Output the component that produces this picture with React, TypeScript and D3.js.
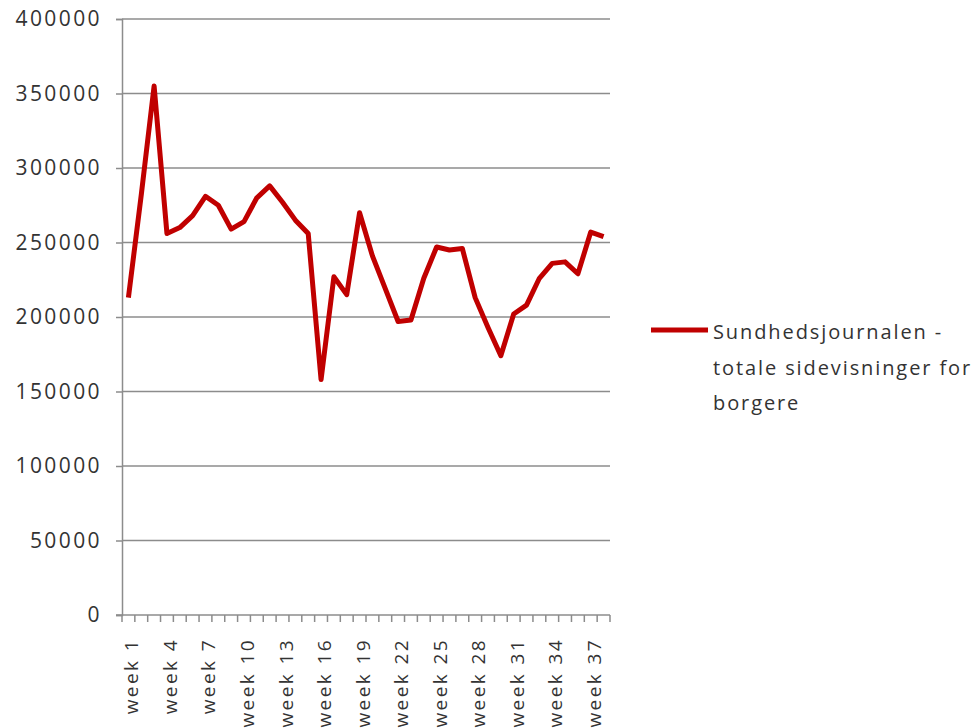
import React, { useRef, useEffect } from "react";
import * as d3 from "d3";

const weeks = d3.range(1, 39).map((w) => `week ${w}`);
const pageViews = [
  213000, 282000, 355000, 256000, 260000, 268000, 281000, 275000, 259000, 264000,
  280000, 288000, 277000, 265000, 256000, 158000, 227000, 215000, 270000, 241000,
  219000, 197000, 198000, 226000, 247000, 245000, 246000, 213000, 193000, 174000,
  202000, 208000, 226000, 236000, 237000, 229000, 257000, 254000,
];
const yTicks = [0, 50000, 100000, 150000, 200000, 250000, 300000, 350000, 400000];
const seriesName = ["Sundhedsjournalen -", "totale sidevisninger for", "borgere"];

const W = 980;
const H = 728;

const App = () => {
  const svgRef = useRef<SVGSVGElement>(null);

  useEffect(() => {
    const svg = d3.select(svgRef.current);
    svg.selectAll("*").remove();

    const left = 122;
    const right = 610;
    const top = 19;
    const bottom = 615;
    const font = "'Open Sans', sans-serif";

    const x = d3.scaleBand<string>().domain(weeks).range([left, right]).padding(0);
    const y = d3.scaleLinear().domain([0, 400000]).range([bottom, top]);
    const cx = (w: string) => (x(w) ?? 0) + x.bandwidth() / 2;

    // gridlines
    svg.append("g")
      .selectAll("line")
      .data(yTicks.filter((t) => t > 0))
      .join("line")
      .attr("x1", left)
      .attr("x2", right)
      .attr("y1", (d) => y(d))
      .attr("y2", (d) => y(d))
      .attr("stroke", "#8c8c8c")
      .attr("stroke-width", 1.5);

    // y axis
    const yAxis = svg.append("g")
      .attr("transform", `translate(${left},0)`)
      .call(d3.axisLeft(y).tickValues(yTicks).tickSize(6).tickPadding(14).tickFormat((d) => String(d)));
    yAxis.select(".domain").attr("stroke", "#8c8c8c").attr("stroke-width", 1.5);
    yAxis.selectAll(".tick line").attr("stroke", "#8c8c8c").attr("stroke-width", 1.5);
    yAxis.selectAll(".tick text")
      .attr("fill", "#333")
      .style("font-family", font)
      .style("font-size", "21px")
      .style("letter-spacing", "2.4px");

    // x axis
    const boundaries = weeks.map((w) => x(w) ?? 0).concat([right]);
    const xAxis = svg.append("g");
    xAxis.append("line")
      .attr("x1", left - 6)
      .attr("x2", right)
      .attr("y1", bottom)
      .attr("y2", bottom)
      .attr("stroke", "#8c8c8c")
      .attr("stroke-width", 1.5);
    xAxis.selectAll("line.tk")
      .data(boundaries)
      .join("line")
      .attr("class", "tk")
      .attr("x1", (d) => d)
      .attr("x2", (d) => d)
      .attr("y1", bottom)
      .attr("y2", bottom + 7)
      .attr("stroke", "#8c8c8c")
      .attr("stroke-width", 1.5);
    xAxis.selectAll("text")
      .data(weeks.filter((_, i) => i % 3 === 0))
      .join("text")
      .attr("transform", (d) => `translate(${cx(d) + 10},${bottom + 23}) rotate(-90)`)
      .attr("text-anchor", "end")
      .attr("fill", "#333")
      .style("font-family", font)
      .style("font-size", "19px")
      .style("letter-spacing", "2.4px")
      .text((d) => d);

    // series line
    const line = d3.line<number>()
      .x((_, i) => cx(weeks[i]))
      .y((d) => y(d));
    svg.append("path")
      .datum(pageViews)
      .attr("fill", "none")
      .attr("stroke", "#C00000")
      .attr("stroke-width", 5)
      .attr("stroke-linejoin", "round")
      .attr("d", line);

    // legend
    const legend = svg.append("g").attr("transform", "translate(651,330)");
    legend.append("line")
      .attr("x1", 0)
      .attr("x2", 57)
      .attr("y1", 0)
      .attr("y2", 0)
      .attr("stroke", "#C00000")
      .attr("stroke-width", 5);
    legend.selectAll("text")
      .data(seriesName)
      .join("text")
      .attr("x", 62)
      .attr("y", (_, i) => 9 + i * 35.5)
      .attr("fill", "#333")
      .style("font-family", font)
      .style("font-size", "20px")
      .style("letter-spacing", "1.9px")
      .text((d) => d);
  }, []);

  return (
    <svg
      ref={svgRef}
      width={W}
      height={H}
      style={{ position: "absolute", left: 0, top: 0, background: "#fff" }}
    />
  );
};

export default App;
